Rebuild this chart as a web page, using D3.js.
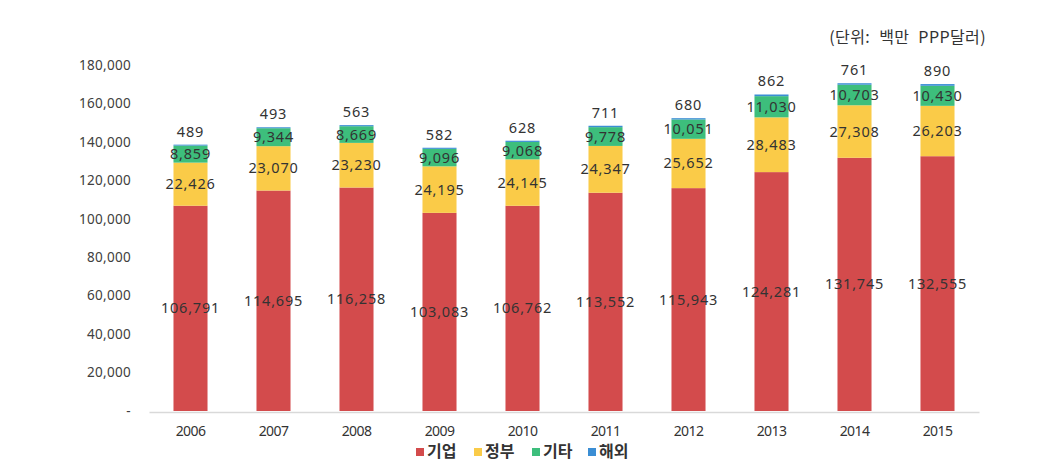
<!DOCTYPE html>
<html><head><meta charset="utf-8">
<script src="https://cdn.jsdelivr.net/npm/d3@7"></script>
<style>
body{margin:0;background:#fff;}
svg{display:block;font-family:"Noto Sans CJK KR","Noto Sans",sans-serif;}
</style></head>
<body><svg id="c" width="1044" height="470"></svg>
<script>
const years = ["2006","2007","2008","2009","2010","2011","2012","2013","2014","2015"];
const seriesNames = ["기업","정부","기타","해외"];
const corp = [106791,114695,116258,103083,106762,113552,115943,124281,131745,132555];
const gov = [22426,23070,23230,24195,24145,24347,25652,28483,27308,26203];
const other = [8859,9344,8669,9096,9068,9778,10051,11030,10703,10430];
const foreign = [489,493,563,582,628,711,680,862,761,890];
const yTicks = [0,20000,40000,60000,80000,100000,120000,140000,160000,180000];
const colors = ["#D34B4C","#FACB48","#3DBE7C","#3B8ED4"];
const unitLabel = "(단위: 백만 PPP달러)";

const svg = d3.select("#c");
const x = d3.scaleBand().domain(years).range([149,979]).paddingInner(0.59).paddingOuter(0.295);
const y = d3.scaleLinear().domain([0,180000]).range([411,65]);
const fmt = d3.format(",");

// y axis labels
const ya = svg.append("g").attr("transform","translate(131,0)")
  .call(d3.axisLeft(y).tickValues(yTicks).tickSize(0).tickPadding(0).tickFormat(d=>d===0?"-":fmt(d)));
ya.select(".domain").remove();
ya.selectAll("text").attr("font-size",13.5).attr("fill","#404040").attr("letter-spacing","0.3px")
  .attr("font-family","'Noto Sans','DejaVu Sans',sans-serif");

const data = years.map((yr,i)=>({year:yr,"기업":corp[i],"정부":gov[i],"기타":other[i],"해외":foreign[i]}));
const stack = d3.stack().keys(seriesNames)(data);

const g = svg.append("g");
stack.forEach((s,si)=>{
  g.selectAll(null).data(s).enter().append("rect")
    .attr("x",d=>x(d.data.year)).attr("width",x.bandwidth())
    .attr("y",d=>y(d[1])).attr("height",d=>y(d[0])-y(d[1]))
    .attr("fill",colors[si]);
});

// x axis
const xa = svg.append("g").attr("transform","translate(0,412)")
  .call(d3.axisBottom(x).tickSize(0).tickPadding(14));
xa.select(".domain").attr("stroke","#d9d9d9").attr("stroke-width",1.5);
xa.selectAll("text").attr("font-size",14).attr("fill","#333").attr("letter-spacing","-0.6px")
  .attr("font-family","'Noto Sans',sans-serif");

// labels
stack.forEach((s,si)=>{
  g.selectAll(null).data(s).enter().append("text")
    .attr("x",d=>x(d.data.year)+x.bandwidth()/2)
    .attr("y",d=> si===3 ? y(d[1])-8 : (y(d[0])+y(d[1]))/2+5)
    .attr("text-anchor","middle").attr("font-size",14.5).attr("letter-spacing","0.8px")
    .attr("fill","#333").attr("font-family","'Noto Sans','DejaVu Sans',sans-serif")
    .text(d=>fmt(d[1]-d[0]));
});

// unit label
svg.append("text").attr("x",986).attr("y",43).attr("text-anchor","end")
  .attr("font-size",16).attr("word-spacing","5px").attr("letter-spacing","0.4px").attr("fill","#333").text(unitLabel);

// legend
const leg = svg.append("g").attr("transform","translate(416,457)");
let lx = 0;
const widths = [58,58,56,60];
seriesNames.forEach((n,i)=>{
  leg.append("rect").attr("x",lx).attr("y",-9).attr("width",8).attr("height",8).attr("fill",colors[i]);
  leg.append("text").attr("x",lx+11).attr("y",0).attr("font-size",16).attr("font-weight","bold")
    .attr("fill","#333").text(n);
  lx += widths[i];
});
</script></body></html>
